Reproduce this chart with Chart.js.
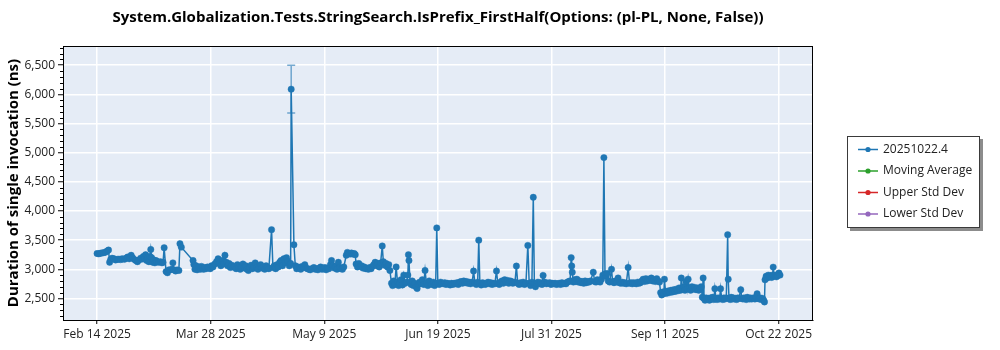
<!DOCTYPE html>
<html>
<head>
<meta charset="utf-8">
<script src="https://cdn.jsdelivr.net/npm/chart.js@4.4.1/dist/chart.umd.min.js"></script>
<style>
  html, body { margin: 0; padding: 0; background: #fff; }
  #wrap { width: 1000px; height: 350px; }
</style>
</head>
<body>
<div id="wrap"><canvas id="chart" width="1000" height="350"></canvas></div>
<script>
const chartTitle = 'System.Globalization.Tests.StringSearch.IsPrefix_FirstHalf(Options: (pl-PL, None, False))';
const yTitle = 'Duration of single invocation (ns)';
const seriesNames = ['20251022.4', 'Moving Average', 'Upper Std Dev', 'Lower Std Dev'];

// x = days since Feb 14 2025, one entry per benchmark run
const runDays = [
  0, 0.6, 1.2, 1.8, 2.4, 3.0, 3.6, 4.2, 4.6,
  5.0, 5.5, 6.2, 6.8, 7.4, 8.0, 8.6, 9.2, 10.0, 10.6, 11.2, 11.8,
  12.5, 13.0, 13.6, 14.2, 14.8, 15.4, 16.0, 16.6,
  17.0, 17.4, 17.8, 18.2, 18.6, 19.0, 19.4, 19.7, 20.0, 20.4, 20.8, 21.2, 21.6, 22.0, 22.6, 23.2, 23.8, 24.2,
  24.6, 25.3, 25.8, 26.3, 26.9, 27.5, 27.8, 28.2, 28.8, 29.4, 30.0,
  30.4, 30.9, 35.2, 35.5, 35.9, 36.3, 36.7, 37.1, 37.5, 37.9, 38.3, 38.7, 39.1, 39.5, 40.0, 40.5, 41.0, 41.5, 42.0, 42.5,
  43.2, 43.8, 44.4, 44.9, 45.4, 45.9, 46.4, 46.9, 47.4, 47.9, 48.4, 48.9, 49.4, 49.9,
  50.5, 51.0, 51.5, 52.0, 52.5, 53.0, 53.5, 54.0, 54.5, 55.0, 55.5, 56.0, 56.5, 57.0, 57.5, 58.0, 58.5, 59.0, 59.5, 60.0, 60.5, 61.0, 61.5, 62.0, 62.5, 63.0,
  64.0, 64.5, 65.0, 65.5, 66.0, 66.5, 67.0, 67.5, 68.0, 68.5, 69.0, 69.5, 70.0, 70.5, 71.0,
  71.2, 72.2, 72.7, 73.2, 73.7, 74.2, 74.7, 75.2, 75.7, 76.2, 76.7, 77.2, 77.7, 78.2, 78.7,
  79.5, 80.0, 80.5, 81.0, 81.5, 82.0, 82.5, 83.0, 83.5, 84.0, 84.5, 85.0,
  85.6, 86.0, 86.5, 87.0, 87.5, 88.0, 88.5, 89.0, 89.5, 90.0, 90.5,
  91.4, 91.8, 92.3, 92.8, 93.3, 93.8, 94.3, 94.7,
  95.0, 95.5, 96.0, 96.5, 97.0, 97.5, 98.0, 98.5, 99.0, 99.5, 100.0, 100.5, 101.0,
  101.5, 102.0, 102.5, 103.0, 103.5, 104.0, 104.6, 105.0, 105.5, 106.0, 106.5, 107.0, 107.4,
  108.0, 108.4, 108.8, 109.2, 109.7, 110.2, 110.6, 111.0, 111.5, 112.0, 112.5, 113.0, 113.5, 114.0, 114.2, 114.4, 114.8,
  115.2, 115.6, 116.0, 116.5, 117.0, 117.4, 117.8, 118.3, 118.8, 119.3, 119.8, 120.3, 120.8, 121.3, 121.8, 122.3, 122.8, 123.3, 123.8, 124.2,
  124.6, 125.0, 125.5, 126.0, 126.5, 127.0, 127.5, 128.0, 128.5, 129.0, 129.5, 130.0, 130.5, 131.0, 131.5, 132.0, 132.5, 133.0, 133.5, 134.0, 134.5, 135.0, 135.5, 136.0, 136.5, 137.0,
  137.6, 138.1, 138.6, 139.1, 139.6, 140.0, 140.4, 140.9, 141.4, 141.9, 142.4, 142.9, 143.4, 143.9, 144.4, 144.9, 145.4, 145.9,
  146.5, 147.0, 147.5, 148.0, 148.5, 149.0, 149.5, 150.0, 150.5, 151.0, 151.5, 152.0, 152.5, 153.3,
  153.8, 154.3, 154.8, 155.3, 155.8, 156.3, 156.8, 157.3,
  158.0, 158.5, 159.0, 159.5, 160.0, 160.4, 160.8, 161.2, 161.7, 162.2, 162.7, 163.2, 163.6, 164.3, 164.8, 165.3,
  166.0, 166.5, 167.0, 167.5, 168.0, 168.5, 169.0, 169.5, 170.0, 170.5, 171.0, 171.5, 172.0, 172.5, 173.0, 173.5,
  173.9, 174.1, 174.3, 174.7, 175.1, 175.5, 176.0, 176.5, 177.0, 177.5, 178.0, 178.5, 179.0, 179.5, 180.0, 180.5, 181.0,
  182.0, 182.5, 183.0, 183.5, 184.0, 184.5, 185.0, 185.5, 185.9, 186.3, 186.7, 187.1, 187.5, 188.0,
  188.7, 189.1, 189.6, 190.1, 190.6, 191.1, 191.6, 192.1, 192.6, 193.1, 193.6, 194.1,
  194.8, 195.3, 195.8, 196.3, 196.8, 197.3, 197.8, 198.3, 198.8, 199.3,
  199.8, 200.3, 200.8, 201.3, 201.8, 202.3, 202.8, 203.3, 203.8, 204.3, 204.8, 205.3, 205.8, 206.3,
  206.7, 207.1, 207.5, 207.9, 208.1, 208.5, 209.0, 209.5, 210.0, 210.5, 211.0, 211.5, 212.0, 212.5, 213.0,
  213.5, 214.0, 214.3, 214.7, 215.2, 215.6, 216.0, 216.4, 216.8, 217.2, 217.7, 218.2, 218.7, 219.2, 219.7, 220.2, 220.7, 221.2, 221.6,
  222.0, 222.3, 222.6, 223.0, 223.4, 223.8, 224.2, 224.6, 225.0, 225.4, 225.8, 226.2,
  226.6, 227.0, 227.4, 227.8, 228.3, 228.7, 229.1, 229.5, 229.9, 230.3, 230.8,
  231.3, 231.5, 231.8, 232.2, 232.6, 233.0, 233.4, 233.8, 234.2, 234.6, 235.0, 235.4,
  236.1, 236.5, 236.9, 237.3, 237.7, 238.1, 238.5, 238.9, 239.3, 239.7, 240.1, 240.5, 240.9, 241.3, 241.7, 242.1,
  242.5, 242.9, 243.3, 243.7, 244.1, 244.5, 244.8,
  245.0, 245.4, 245.8, 246.2, 246.6, 247.0, 247.4, 247.8, 248.0, 248.4, 248.8, 249.2, 249.6, 250.1, 250.5
];

// y = mean duration in ns, same order as runDays
const runNs = [
  3270, 3265, 3275, 3280, 3285, 3290, 3310, 3330, 3120,
  3170, 3190, 3180, 3160, 3170, 3175, 3165, 3180, 3170, 3190, 3210, 3180,
  3240, 3200, 3170, 3150, 3130, 3160, 3190, 3175,
  3220, 3180, 3250, 3150, 3200, 3130, 3220, 3340, 3200, 3120, 3160, 3110, 3150, 3130, 3120, 3130, 3110, 3120,
  3370, 2960, 2940, 2990, 2990, 3000, 3110, 2990, 2970, 2990, 2980,
  3440, 3380, 3150, 3080, 3000, 3060, 2990, 3020, 3040, 3000, 3050, 3020, 3000, 3030, 3010, 3040, 3030, 3010, 3060, 3040,
  3090, 3130, 3180, 3100, 3060, 3150, 3090, 3240, 3120, 3060, 3100, 3030, 3070, 3040,
  3050, 3010, 3080, 3030, 3000, 3040, 3090, 3020, 3060, 3000, 2980, 3030, 3070, 3010, 3040, 3110, 3030, 3000, 3050, 3080, 3020, 3040, 3000, 3060, 3030, 3010,
  3680, 3030, 3060, 3010, 3080, 3040, 3120, 3150, 3060, 3180, 3110, 3200, 3140, 3060, 3100,
  6090, 3420, 3060, 3010, 3040, 3020, 3000, 3050, 3030, 3080, 3020, 3010, 3000, 2990, 3010,
  3030, 3000, 3010, 2990, 3020, 3040, 3000, 3010, 3030, 2990, 3020, 3010,
  3080, 3150, 3060, 3020, 3050, 3000, 3120, 3030, 3010, 3000, 3040,
  3240, 3290, 3270, 3260, 3280, 3260, 3270, 3250,
  3090, 3040, 3100, 3050, 3060, 3020, 3040, 3010, 3020, 3000, 3030, 3010, 3050,
  3080, 3120, 3060, 3100, 3040, 3110, 3400, 3130, 3070, 3100, 3040, 3080, 2980,
  2760, 2720, 2800, 2740, 3040, 2780, 2720, 2760, 2820, 2730, 2900, 2760, 2780, 2900, 3250, 3150, 2780,
  2740, 2800, 2720, 2760, 2700, 2670, 2740, 2780, 2760, 2820, 2740, 2980, 2760, 2720, 2800, 2760, 2740, 2780, 2720, 2760,
  3710, 2760, 2740, 2780, 2760, 2750, 2770, 2740, 2760, 2750, 2730, 2760, 2740, 2760, 2750, 2770, 2740, 2780, 2790, 2760, 2800, 2770, 2790, 2760, 2780, 2750,
  2780, 2970, 2760, 2740, 2780, 3500, 2760, 2730, 2770, 2750, 2740, 2760, 2780, 2750, 2770, 2740, 2760, 2750,
  2970, 2760, 2740, 2780, 2800, 2760, 2820, 2780, 2810, 2760, 2800, 2790, 2760, 2780,
  3055, 2760, 2740, 2770, 2750, 2780, 2740, 2760,
  3410, 2760, 2720, 2780, 4235, 2750, 2700, 2760, 2780, 2750, 2770, 2740, 2895, 2780, 2750, 2760,
  2770, 2740, 2760, 2750, 2760, 2740, 2750, 2760, 2740, 2770, 2750, 2760, 2750, 2780, 2790, 2800,
  3200, 3055, 2950, 2780, 2820, 2790, 2830, 2780, 2800, 2770, 2790, 2760, 2800, 2770, 2790, 2780, 2800,
  2950, 2790, 2780, 2820, 2800, 2780, 2830, 2900, 4916, 2920, 2880, 2930, 2800, 2780,
  3000, 2790, 2770, 2800, 2780, 2850, 2770, 2760, 2780, 2760, 2770, 2750,
  3030, 2760, 2770, 2750, 2770, 2760, 2750, 2780, 2760, 2770,
  2800, 2830, 2790, 2840, 2800, 2830, 2810, 2850, 2800, 2820, 2790, 2840, 2800, 2780,
  2600, 2560, 2610, 2580, 2830, 2620, 2590, 2630, 2600, 2640, 2610, 2650, 2620, 2660, 2630,
  2680, 2640, 2850, 2660, 2700, 2640, 2790, 2660, 2830, 2680, 2640, 2700, 2660, 2690, 2650, 2680, 2640, 2670, 2700,
  2520, 2850, 2500, 2470, 2510, 2480, 2500, 2470, 2510, 2490, 2520, 2480,
  2667, 2500, 2480, 2510, 2490, 2667, 2500, 2480, 2510, 2490, 2510,
  3594, 2830, 2500, 2480, 2520, 2490, 2510, 2490, 2500, 2480, 2510, 2500,
  2650, 2500, 2490, 2510, 2500, 2480, 2520, 2500, 2490, 2510, 2490, 2500, 2510, 2490, 2520, 2580,
  2500, 2490, 2510, 2480, 2500, 2470, 2440,
  2820, 2880, 2850, 2900, 2870, 2890, 2860, 2900, 3037, 2880, 2900, 2870, 2890, 2935, 2900
];

// the one run whose spread is wide enough to show outside its marker
const errorRuns = [{ day: 71.2, low: 5680, high: 6500 }];

const xTickDays = [0, 41.67, 83.33, 125, 166.67, 208.33, 250];
const xTickLabels = ['Feb 14 2025', 'Mar 28 2025', 'May 9 2025', 'Jun 19 2025', 'Jul 31 2025', 'Sep 11 2025', 'Oct 22 2025'];
const yTicks = [2500, 3000, 3500, 4000, 4500, 5000, 5500, 6000, 6500];

if (runDays.length !== runNs.length) throw new Error('run arrays out of sync');

const COLORS = ['#1f77b4', '#2ca02c', '#d62728', '#9467bd'];
const FONT = "'Open Sans', sans-serif";
const PLOT_BG = '#e5ecf6';

Chart.defaults.font.family = FONT;
Chart.defaults.font.size = 12;
Chart.defaults.color = '#222';

// plot background + black frame around the plot area
const plotFrame = {
  id: 'plotFrame',
  beforeDraw(chart) {
    const { ctx, chartArea: a } = chart;
    ctx.save();
    ctx.fillStyle = PLOT_BG;
    ctx.fillRect(a.left, a.top, a.right - a.left, a.bottom - a.top);
    ctx.restore();
  },
  afterDraw(chart) {
    const { ctx, chartArea: a } = chart;
    ctx.save();
    ctx.strokeStyle = '#000';
    ctx.lineWidth = 1;
    ctx.strokeRect(Math.round(a.left) + 0.5, Math.round(a.top) + 0.5,
      Math.round(a.right - a.left) - 1, Math.round(a.bottom - a.top));
    ctx.restore();
  }
};

// small ticks every 100 ns on the y axis
const minorTicks = {
  id: 'minorTicks',
  afterDraw(chart) {
    const { ctx, scales: { y } } = chart;
    ctx.save();
    ctx.strokeStyle = '#000';
    ctx.lineWidth = 1;
    for (let v = Math.ceil(y.min / 100) * 100; v <= y.max; v += 100) {
      if (v % 500 === 0) continue;
      const py = Math.round(y.getPixelForValue(v)) + 0.5;
      ctx.beginPath();
      ctx.moveTo(y.right - 3, py);
      ctx.lineTo(y.right, py);
      ctx.stroke();
    }
    ctx.restore();
  }
};

const errorBars = {
  id: 'errorBars',
  afterDatasetsDraw(chart) {
    const { ctx, scales: { x, y } } = chart;
    ctx.save();
    ctx.strokeStyle = 'rgba(31,119,180,0.6)';
    ctx.lineWidth = 1.5;
    errorRuns.forEach((e) => {
      const px = x.getPixelForValue(e.day);
      const top = y.getPixelForValue(e.high);
      const bot = y.getPixelForValue(e.low);
      ctx.beginPath();
      ctx.moveTo(px, top); ctx.lineTo(px, bot);
      ctx.moveTo(px - 4, top); ctx.lineTo(px + 4, top);
      ctx.moveTo(px - 4, bot); ctx.lineTo(px + 4, bot);
      ctx.stroke();
    });
    ctx.restore();
  }
};

// boxed legend with drop shadow, right of the plot
const boxLegend = {
  id: 'boxLegend',
  afterDraw(chart) {
    const ctx = chart.ctx;
    const bx = 847, by = 136, bw = 133, bh = 92;
    ctx.save();
    ctx.fillStyle = '#8c8c8c';
    ctx.fillRect(bx + 3, by + 3, bw, bh);
    ctx.fillStyle = '#fff';
    ctx.fillRect(bx, by, bw, bh);
    ctx.strokeStyle = '#3a3a3a';
    ctx.lineWidth = 1;
    ctx.strokeRect(bx + 0.5, by + 0.5, bw - 1, bh - 1);
    ctx.font = `12px ${FONT}`;
    ctx.textBaseline = 'middle';
    chart.data.datasets.forEach((ds, i) => {
      const cy = by + 13.5 + i * 21.5;
      ctx.strokeStyle = ds.borderColor;
      ctx.lineWidth = 1.5;
      ctx.beginPath();
      ctx.moveTo(bx + 11, cy); ctx.lineTo(bx + 31, cy);
      ctx.stroke();
      ctx.fillStyle = ds.borderColor;
      ctx.beginPath();
      ctx.arc(bx + 21, cy, 2.6, 0, Math.PI * 2);
      ctx.fill();
      ctx.fillStyle = '#222';
      ctx.fillText(ds.label, bx + 36, cy);
    });
    ctx.restore();
  }
};

const runs = runDays.map((d, i) => ({ x: d, y: runNs[i] }));

new Chart(document.getElementById('chart'), {
  type: 'line',
  data: {
    datasets: seriesNames.map((name, i) => ({
      label: name,
      data: i === 0 ? runs : [],
      borderColor: COLORS[i],
      backgroundColor: COLORS[i],
      borderWidth: 1.5,
      pointRadius: 3.2,
      pointBorderWidth: 0.6,
      pointBorderColor: 'rgba(31,119,180,0.7)',
      pointBackgroundColor: COLORS[i],
      tension: 0,
    })),
  },
  options: {
    responsive: false,
    animation: false,
    devicePixelRatio: 1,
    layout: { padding: { left: 0, right: 187, top: 0, bottom: 0 } },
    plugins: {
      legend: { display: false },
      tooltip: { enabled: false },
      title: {
        display: true,
        text: chartTitle,
        fullSize: false,
        color: '#000',
        font: { family: FONT, size: 15, weight: 'bold' },
        padding: { top: 9, bottom: 19 },
      },
    },
    scales: {
      x: {
        type: 'linear',
        min: -12.5,
        max: 262.6,
        afterBuildTicks: (s) => { s.ticks = xTickDays.map((v) => ({ value: v })); },
        afterFit: (s) => { s.height = 30; },
        ticks: {
          autoSkip: false,
          maxRotation: 0,
          padding: 3,
          color: '#222',
          callback: (v, i) => xTickLabels[i],
        },
        grid: { color: '#fff', lineWidth: 1.5, tickColor: '#000', tickLength: 4, tickWidth: 1 },
        border: { color: '#000', width: 1 },
      },
      y: {
        min: 2130,
        max: 6830,
        afterBuildTicks: (s) => { s.ticks = yTicks.map((v) => ({ value: v })); },
        afterFit: (s) => { s.width = 63; },
        ticks: {
          padding: 3,
          color: '#222',
          callback: (v) => v.toLocaleString('en-US'),
        },
        grid: { color: '#fff', lineWidth: 1.5, tickColor: '#000', tickLength: 5, tickWidth: 1 },
        border: { color: '#000', width: 1 },
        title: {
          display: true,
          text: yTitle,
          color: '#000',
          font: { family: FONT, size: 15, weight: 'bold' },
          padding: { top: 5, bottom: 0 },
        },
      },
    },
  },
  plugins: [plotFrame, minorTicks, errorBars, boxLegend],
});
</script>
</body>
</html>
